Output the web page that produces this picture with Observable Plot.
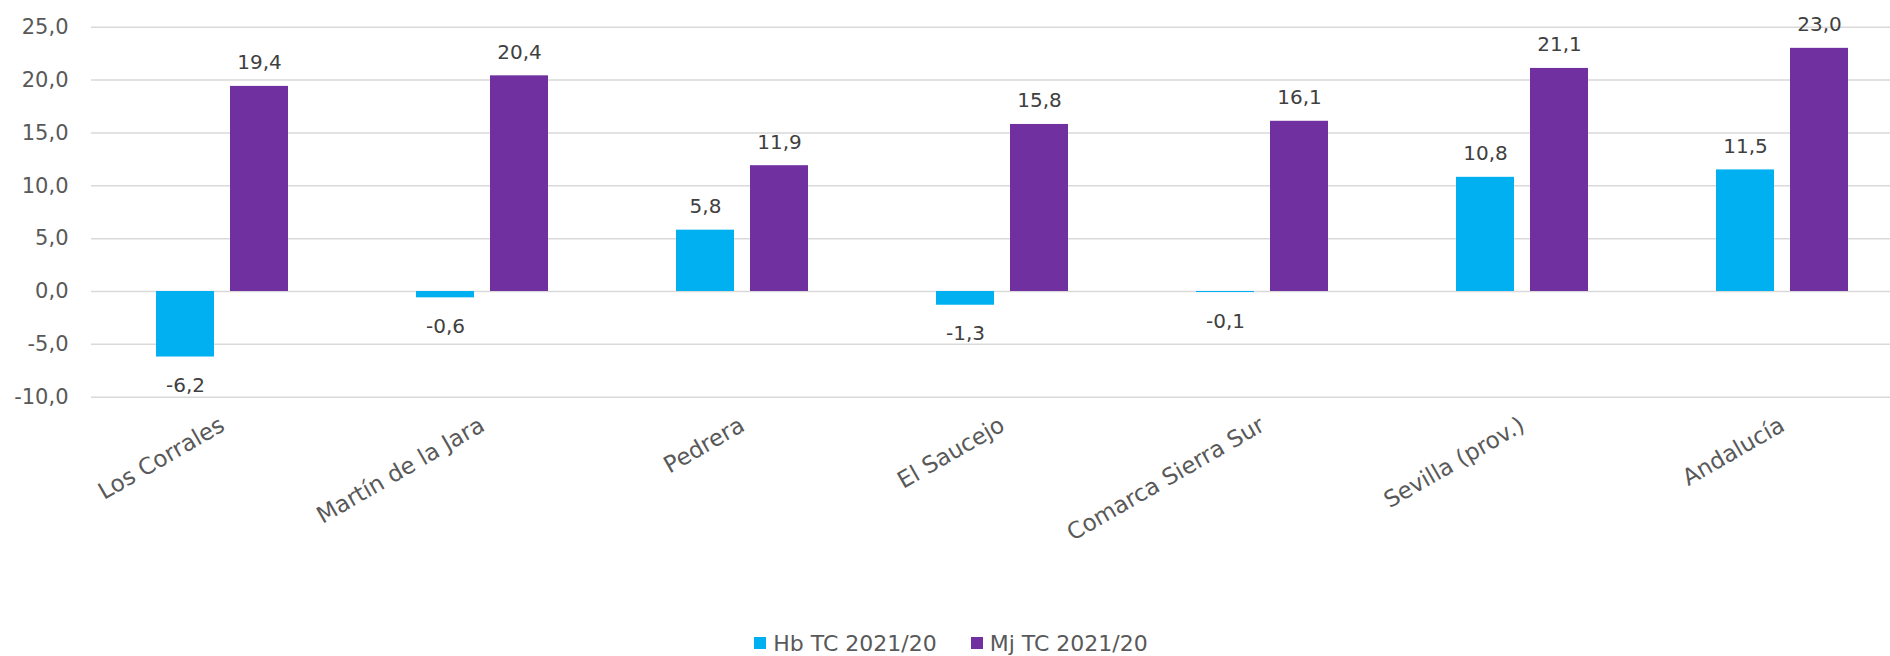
<!DOCTYPE html>
<html><head><meta charset="utf-8">
<script src="https://cdn.jsdelivr.net/npm/d3@7"></script>
<script src="https://cdn.jsdelivr.net/npm/@observablehq/plot@0.6"></script>
<style>
html,body{margin:0;padding:0;background:#fff;overflow:hidden;width:1890px;height:656px}
#legend{display:flex;justify-content:center;align-items:center;height:36px;font-family:"DejaVu Sans",sans-serif;font-size:22px;color:#595959;padding-left:12px}
#legend .item{display:flex;align-items:center;margin:0 17px}
#legend .sw{width:12px;height:12px;margin-right:7px}
</style></head><body><div id="chart"></div><div id="legend"></div>
<script>
const categories = ["Los Corrales","Martín de la Jara","Pedrera","El Saucejo","Comarca Sierra Sur","Sevilla (prov.)","Andalucía"];
const seriesNames = ["Hb TC 2021/20","Mj TC 2021/20"];
const hbValues = [-6.2,-0.6,5.8,-1.3,-0.1,10.8,11.5];
const mjValues = [19.4,20.4,11.9,15.8,16.1,21.1,23.0];
const yTicks = [-10,-5,0,5,10,15,20,25];
const colors = ["#00B0F0","#7030A0"];

const fmt = v => v.toFixed(1).replace(".", ",");
const hb = categories.map((c,i)=>({category:c, series:seriesNames[0], value:hbValues[i]}));
const mj = categories.map((c,i)=>({category:c, series:seriesNames[1], value:mjValues[i]}));

function labels(data, dx){
  return [
    Plot.text(data.filter(d=>d.value>=0), {x:"category", y:"value", text:d=>fmt(d.value), dx, dy:-17, lineAnchor:"bottom", fontSize:20, fill:"#404040"}),
    Plot.text(data.filter(d=>d.value<0), {x:"category", y:"value", text:d=>fmt(d.value), dx, dy:21, lineAnchor:"top", fontSize:20, fill:"#404040"})
  ];
}

const chart = Plot.plot({
  width:1890, height:625,
  marginLeft:91, marginRight:0, marginTop:26.7, marginBottom:228.3,
  x:{domain:categories, range:[91,1912.5], paddingInner:0.493, paddingOuter:0.2465, axis:null, label:null},
  y:{domain:[-10,25], axis:null, label:null},
  style:{fontFamily:"DejaVu Sans, sans-serif", background:"white", color:"#595959", overflow:"hidden"},
  marks:[
    Plot.ruleY(yTicks, {stroke:"#d9d9d9", strokeWidth:1.5}),
    Plot.barY(hb, {x:"category", y:"value", fill:colors[0], insetRight:74}),
    Plot.barY(mj, {x:"category", y:"value", fill:colors[1], insetLeft:74}),
    ...labels(hb, -37),
    ...labels(mj, 37),
    Plot.axisY({ticks:yTicks, tickSize:0, tickPadding:23, tickFormat:fmt, fontSize:21, label:null}),
    Plot.axisX({tickRotate:-30, tickSize:0, tickPadding:26, fontSize:23, label:null})
  ]
});
document.getElementById("chart").appendChild(chart);

const legend = document.getElementById("legend");
seriesNames.forEach((s,i)=>{
  const it = document.createElement("div"); it.className="item";
  const sw = document.createElement("div"); sw.className="sw"; sw.style.background=colors[i];
  const t = document.createElement("span"); t.textContent=s;
  it.appendChild(sw); it.appendChild(t); legend.appendChild(it);
});
</script></body></html>
